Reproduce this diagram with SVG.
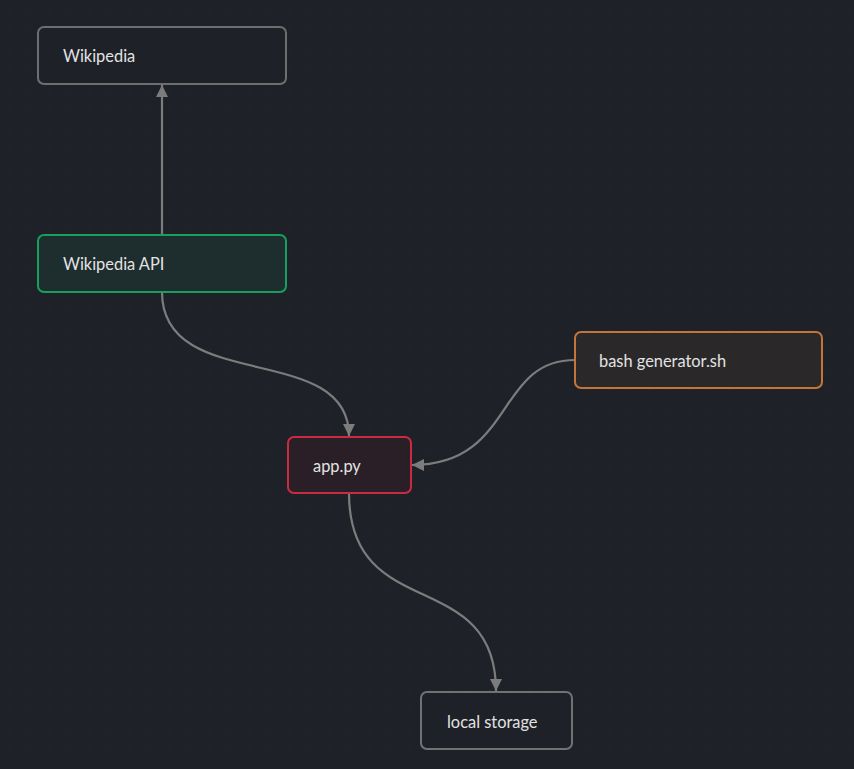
<svg xmlns="http://www.w3.org/2000/svg" width="854" height="769" viewBox="0 0 854 769">
<defs>
<pattern id="dots" width="20" height="20" patternUnits="userSpaceOnUse"><circle cx="10" cy="10" r="0.8" fill="#262a31"/></pattern>
<marker id="arr" viewBox="0 0 10 10" refX="10" refY="5" markerWidth="12" markerHeight="12" markerUnits="userSpaceOnUse" orient="auto"><path d="M0,0 L10,5 L0,10 z" fill="#7c7c7c"/></marker>
<style>
.n rect{stroke-width:2}
.n text{font-family:Lato,"Noto Sans",sans-serif;font-size:16.4px;fill:#e3e3e3;dominant-baseline:central}
.e path{fill:none;stroke:#7c7c7c;stroke-width:2.2;marker-end:url(#arr)}
</style>
</defs>
<rect width="854" height="769" fill="#1e2128"/>
<rect width="854" height="769" fill="url(#dots)"/>
<g id="edges" class="e">
<path d="M162,235 L162,85"/>
<path d="M162,292 C162,395 349,340 349,436"/>
<path d="M575,360 C495,360 515,465 412,465"/>
<path d="M349,493 C349,625 496,565 496,691"/>
</g>
<g id="wikipedia" class="n"><rect x="38" y="27" width="248" height="57" rx="6" fill="#1e2128" stroke="#6e6e6e"/><text x="63" y="55.5">Wikipedia</text></g>
<g id="wikipedia-api" class="n"><rect x="38" y="235" width="248" height="57" rx="6" fill="#1e2d2e" stroke="#16a05c"/><text x="63" y="263.5">Wikipedia API</text></g>
<g id="bash-generator" class="n"><rect x="575" y="332" width="247" height="56" rx="6" fill="#2a2829" stroke="#c4763a"/><text x="599" y="360">bash generator.sh</text></g>
<g id="app-py" class="n"><rect x="288" y="437" width="123" height="56" rx="6" fill="#2a1f27" stroke="#cb2b41"/><text x="313" y="465.5">app.py</text></g>
<g id="local-storage" class="n"><rect x="421" y="692" width="151" height="57" rx="6" fill="#1e2128" stroke="#727272"/><text x="447" y="721">local storage</text></g>
</svg>
